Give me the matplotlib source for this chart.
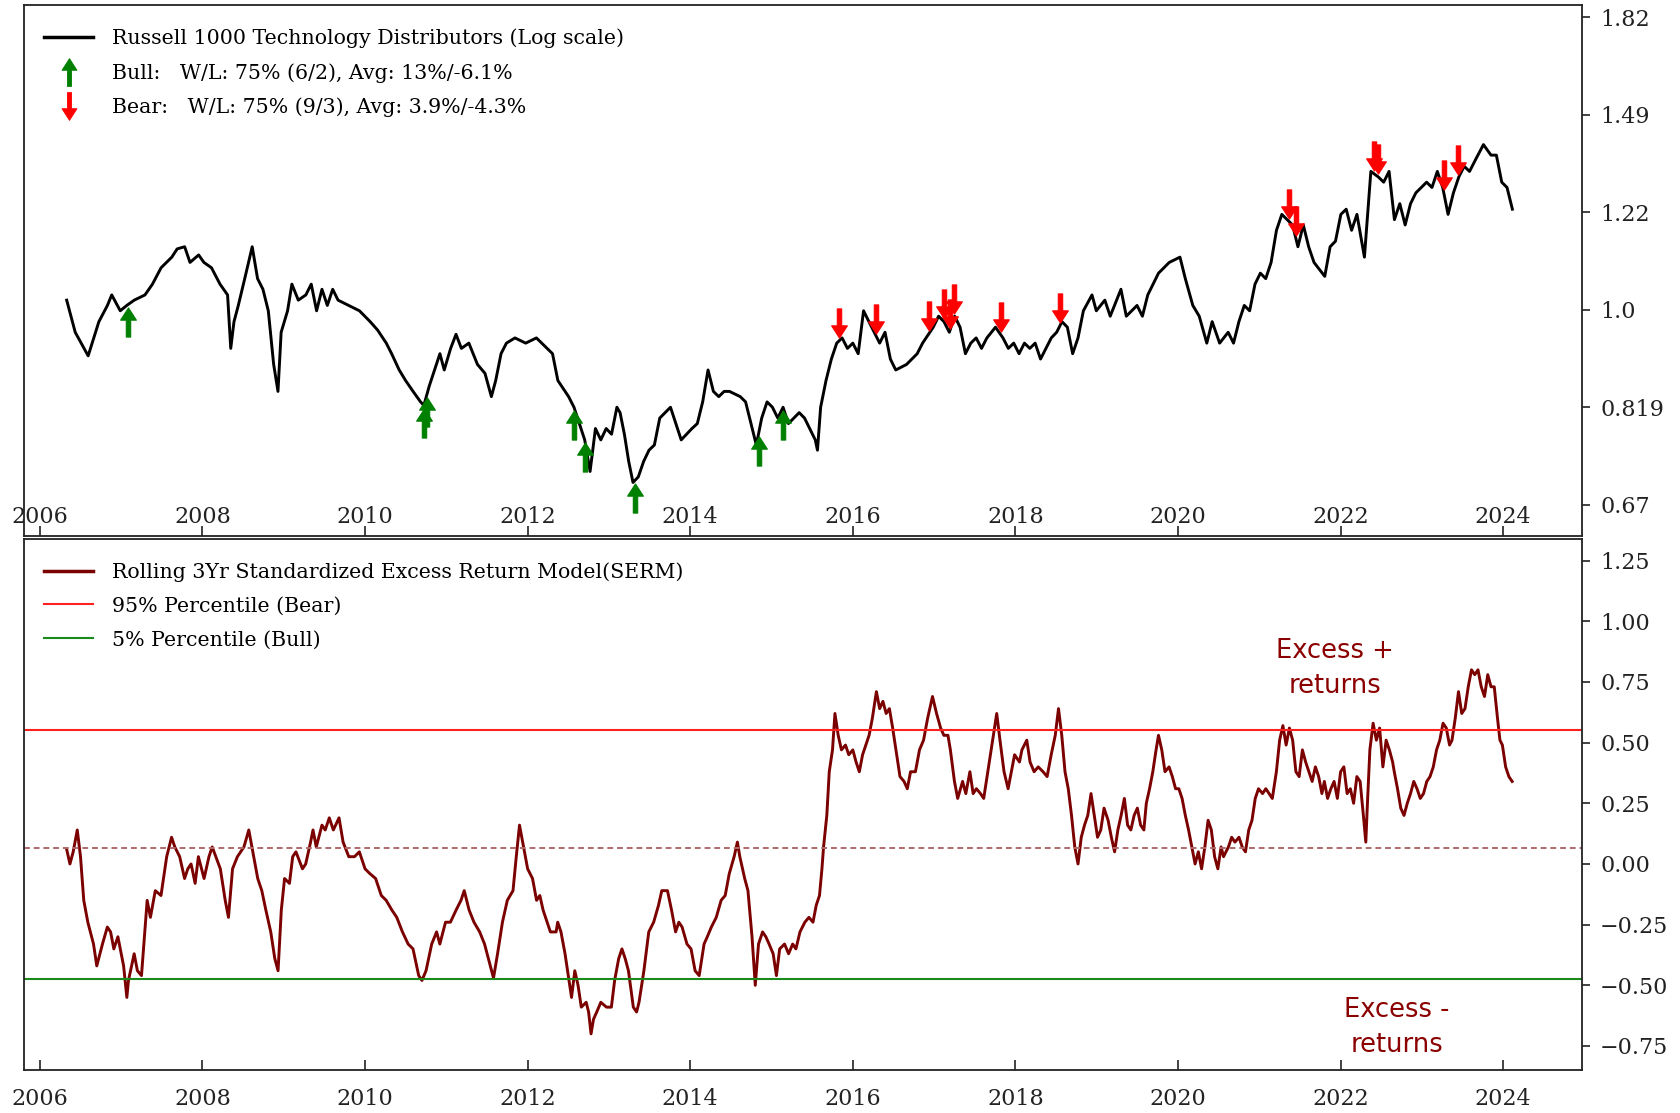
import numpy as np
import matplotlib
matplotlib.use('Agg')
import matplotlib.pyplot as plt
from matplotlib.path import Path
from matplotlib.lines import Line2D
from matplotlib.ticker import NullLocator, FuncFormatter

plt.rcParams['font.family'] = ['DejaVu Serif']

# ---------------- data ----------------
price_years = [
    2006.33, 2006.435, 2006.594, 2006.726, 2006.831, 2006.884, 2006.989, 2007.069, 2007.161, 2007.293,
    2007.385, 2007.491, 2007.623, 2007.689, 2007.781, 2007.847, 2007.953, 2008.018, 2008.111, 2008.216,
    2008.309, 2008.348, 2008.388, 2008.441, 2008.520, 2008.612, 2008.678, 2008.744, 2008.810, 2008.876,
    2008.929, 2008.968, 2009.047, 2009.100, 2009.179, 2009.272, 2009.338, 2009.404, 2009.470, 2009.536,
    2009.602, 2009.668, 2009.799, 2009.931, 2010.063, 2010.156, 2010.261, 2010.327, 2010.420, 2010.499,
    2010.591, 2010.683, 2010.723, 2010.789, 2010.855, 2010.921, 2010.974, 2011.053, 2011.119, 2011.185,
    2011.277, 2011.383, 2011.475, 2011.554, 2011.607, 2011.673, 2011.739, 2011.844, 2011.976, 2012.108,
    2012.240, 2012.306, 2012.372, 2012.504, 2012.570, 2012.636, 2012.702, 2012.768, 2012.834, 2012.900,
    2012.966, 2013.032, 2013.098, 2013.137, 2013.190, 2013.243, 2013.296, 2013.361, 2013.427, 2013.493,
    2013.559, 2013.625, 2013.691, 2013.757, 2013.823, 2013.889, 2013.955, 2014.021, 2014.087, 2014.153,
    2014.219, 2014.285, 2014.351, 2014.417, 2014.483, 2014.615, 2014.681, 2014.747, 2014.813, 2014.879,
    2014.945, 2015.011, 2015.077, 2015.142, 2015.208, 2015.274, 2015.340, 2015.406, 2015.538, 2015.565,
    2015.604, 2015.670, 2015.736, 2015.802, 2015.868, 2015.934, 2016.000, 2016.066, 2016.132, 2016.198,
    2016.264, 2016.330, 2016.396, 2016.462, 2016.528, 2016.660, 2016.792, 2016.858, 2016.989, 2017.055,
    2017.121, 2017.187, 2017.253, 2017.319, 2017.385, 2017.451, 2017.517, 2017.583, 2017.649, 2017.755,
    2017.847, 2017.913, 2017.979, 2018.045, 2018.111, 2018.177, 2018.243, 2018.309, 2018.375, 2018.441,
    2018.507, 2018.573, 2018.639, 2018.704, 2018.770, 2018.836, 2018.942, 2018.995, 2019.100, 2019.166,
    2019.298, 2019.364, 2019.496, 2019.562, 2019.628, 2019.760, 2019.892, 2020.024, 2020.090, 2020.182,
    2020.261, 2020.354, 2020.420, 2020.512, 2020.617, 2020.683, 2020.749, 2020.815, 2020.881, 2020.947,
    2021.013, 2021.079, 2021.145, 2021.211, 2021.277, 2021.343, 2021.409, 2021.475, 2021.541, 2021.607,
    2021.673, 2021.805, 2021.871, 2021.937, 2022.003, 2022.069, 2022.135, 2022.201, 2022.293, 2022.372,
    2022.464, 2022.530, 2022.596, 2022.662, 2022.728, 2022.794, 2022.860, 2022.926, 2023.058, 2023.124,
    2023.190, 2023.256, 2023.322, 2023.388, 2023.454, 2023.520, 2023.586, 2023.652, 2023.757, 2023.850,
    2023.916, 2023.982, 2024.047, 2024.113]

price_values = [
    1.020, 0.955, 0.910, 0.976, 1.009, 1.031, 0.998, 1.009, 1.020, 1.031,
    1.054, 1.090, 1.114, 1.133, 1.138, 1.102, 1.119, 1.102, 1.090, 1.054,
    1.031, 0.924, 0.976, 1.009, 1.066, 1.138, 1.066, 1.043, 0.998, 0.894,
    0.846, 0.955, 0.998, 1.054, 1.020, 1.031, 1.054, 0.998, 1.043, 1.009,
    1.043, 1.020, 1.009, 0.998, 0.976, 0.959, 0.934, 0.914, 0.884, 0.865,
    0.846, 0.828, 0.822, 0.855, 0.884, 0.914, 0.884, 0.924, 0.951, 0.924,
    0.934, 0.894, 0.878, 0.837, 0.865, 0.914, 0.934, 0.944, 0.934, 0.944,
    0.924, 0.914, 0.865, 0.837, 0.819, 0.792, 0.766, 0.718, 0.784, 0.766,
    0.784, 0.775, 0.819, 0.810, 0.775, 0.733, 0.702, 0.710, 0.733, 0.750,
    0.758, 0.801, 0.810, 0.819, 0.792, 0.766, 0.775, 0.784, 0.792, 0.828,
    0.884, 0.846, 0.837, 0.846, 0.846, 0.837, 0.828, 0.792, 0.758, 0.801,
    0.828, 0.819, 0.801, 0.819, 0.792, 0.801, 0.810, 0.801, 0.766, 0.750,
    0.819, 0.865, 0.904, 0.934, 0.944, 0.924, 0.934, 0.914, 0.998, 0.976,
    0.955, 0.934, 0.955, 0.904, 0.884, 0.894, 0.914, 0.934, 0.965, 0.987,
    0.976, 0.955, 0.987, 0.965, 0.914, 0.934, 0.944, 0.924, 0.944, 0.965,
    0.944, 0.924, 0.934, 0.914, 0.934, 0.924, 0.934, 0.904, 0.924, 0.944,
    0.955, 0.976, 0.965, 0.914, 0.944, 0.998, 1.031, 0.998, 1.020, 0.987,
    1.043, 0.987, 1.009, 0.987, 1.031, 1.078, 1.102, 1.114, 1.066, 1.009,
    0.987, 0.934, 0.976, 0.934, 0.955, 0.934, 0.976, 1.009, 0.998, 1.054,
    1.078, 1.066, 1.102, 1.177, 1.216, 1.203, 1.190, 1.138, 1.190, 1.138,
    1.102, 1.071, 1.138, 1.151, 1.216, 1.229, 1.177, 1.216, 1.114, 1.328,
    1.313, 1.299, 1.328, 1.203, 1.243, 1.190, 1.243, 1.271, 1.299, 1.285,
    1.328, 1.285, 1.216, 1.271, 1.313, 1.342, 1.328, 1.357, 1.403, 1.373,
    1.373, 1.299, 1.285, 1.229]

serm_years = [
    2006.33, 2006.37, 2006.41, 2006.46, 2006.50, 2006.54, 2006.59, 2006.66, 2006.70, 2006.77,
    2006.83, 2006.87, 2006.91, 2006.96, 2007.03, 2007.07, 2007.09, 2007.16, 2007.20, 2007.25,
    2007.32, 2007.36, 2007.42, 2007.49, 2007.56, 2007.62, 2007.66, 2007.72, 2007.78, 2007.82,
    2007.86, 2007.91, 2007.95, 2008.02, 2008.08, 2008.12, 2008.22, 2008.28, 2008.32, 2008.37,
    2008.43, 2008.51, 2008.57, 2008.63, 2008.68, 2008.73, 2008.78, 2008.84, 2008.89, 2008.93,
    2008.97, 2009.01, 2009.07, 2009.11, 2009.15, 2009.23, 2009.27, 2009.33, 2009.36, 2009.40,
    2009.47, 2009.51, 2009.56, 2009.61, 2009.68, 2009.73, 2009.80, 2009.87, 2009.93, 2010.00,
    2010.06, 2010.13, 2010.20, 2010.26, 2010.33, 2010.39, 2010.46, 2010.53, 2010.59, 2010.66,
    2010.70, 2010.75, 2010.82, 2010.88, 2010.92, 2010.99, 2011.05, 2011.12, 2011.18, 2011.22,
    2011.28, 2011.34, 2011.41, 2011.47, 2011.54, 2011.58, 2011.63, 2011.69, 2011.75, 2011.82,
    2011.86, 2011.90, 2011.95, 2012.00, 2012.06, 2012.11, 2012.15, 2012.19, 2012.24, 2012.28,
    2012.35, 2012.37, 2012.41, 2012.46, 2012.50, 2012.54, 2012.58, 2012.62, 2012.66, 2012.72,
    2012.75, 2012.78, 2012.81, 2012.85, 2012.90, 2012.97, 2013.03, 2013.07, 2013.12, 2013.16,
    2013.20, 2013.24, 2013.30, 2013.34, 2013.37, 2013.43, 2013.49, 2013.55, 2013.61, 2013.65,
    2013.72, 2013.77, 2013.82, 2013.86, 2013.90, 2013.96, 2014.01, 2014.06, 2014.11, 2014.17,
    2014.21, 2014.26, 2014.32, 2014.38, 2014.43, 2014.48, 2014.54, 2014.58, 2014.61, 2014.67,
    2014.71, 2014.76, 2014.80, 2014.84, 2014.89, 2014.93, 2014.97, 2015.02, 2015.06, 2015.10,
    2015.16, 2015.21, 2015.26, 2015.30, 2015.35, 2015.41, 2015.46, 2015.51, 2015.55, 2015.59,
    2015.62, 2015.64, 2015.68, 2015.71, 2015.75, 2015.78, 2015.82, 2015.86, 2015.91, 2015.95,
    2016.00, 2016.04, 2016.08, 2016.12, 2016.16, 2016.20, 2016.24, 2016.29, 2016.33, 2016.37,
    2016.41, 2016.45, 2016.49, 2016.53, 2016.58, 2016.63, 2016.67, 2016.71, 2016.77, 2016.82,
    2016.87, 2016.92, 2016.98, 2017.03, 2017.08, 2017.12, 2017.17, 2017.20, 2017.25, 2017.29,
    2017.35, 2017.39, 2017.44, 2017.48, 2017.52, 2017.57, 2017.61, 2017.66, 2017.72, 2017.77,
    2017.81, 2017.86, 2017.91, 2017.95, 2017.99, 2018.05, 2018.08, 2018.14, 2018.18, 2018.23,
    2018.28, 2018.34, 2018.39, 2018.44, 2018.49, 2018.53, 2018.57, 2018.61, 2018.65, 2018.69,
    2018.73, 2018.77, 2018.81, 2018.85, 2018.89, 2018.93, 2018.97, 2019.01, 2019.05, 2019.09,
    2019.14, 2019.18, 2019.22, 2019.26, 2019.30, 2019.34, 2019.38, 2019.42, 2019.46, 2019.50,
    2019.54, 2019.58, 2019.61, 2019.65, 2019.69, 2019.73, 2019.76, 2019.80, 2019.84, 2019.89,
    2019.93, 2019.97, 2020.01, 2020.05, 2020.09, 2020.13, 2020.17, 2020.21, 2020.25, 2020.29,
    2020.33, 2020.37, 2020.41, 2020.45, 2020.49, 2020.53, 2020.56, 2020.62, 2020.66, 2020.70,
    2020.75, 2020.79, 2020.83, 2020.87, 2020.91, 2020.95, 2020.99, 2021.04, 2021.08, 2021.12,
    2021.16, 2021.21, 2021.25, 2021.29, 2021.33, 2021.37, 2021.41, 2021.45, 2021.49, 2021.53,
    2021.57, 2021.61, 2021.65, 2021.69, 2021.73, 2021.77, 2021.80, 2021.84, 2021.88, 2021.92,
    2021.96, 2022.00, 2022.04, 2022.08, 2022.12, 2022.16, 2022.20, 2022.24, 2022.28, 2022.31,
    2022.33, 2022.36, 2022.40, 2022.44, 2022.48, 2022.52, 2022.56, 2022.60, 2022.64, 2022.66,
    2022.70, 2022.74, 2022.78, 2022.82, 2022.86, 2022.90, 2022.94, 2022.98, 2023.02, 2023.06,
    2023.10, 2023.14, 2023.18, 2023.22, 2023.26, 2023.30, 2023.34, 2023.37, 2023.41, 2023.45,
    2023.49, 2023.53, 2023.57, 2023.61, 2023.65, 2023.69, 2023.73, 2023.77, 2023.81, 2023.85,
    2023.89, 2023.93, 2023.96, 2023.99, 2024.03, 2024.07, 2024.11]

serm_values = [
    0.06, 0.00, 0.05, 0.14, 0.03, -0.15, -0.24, -0.33, -0.42, -0.33,
    -0.26, -0.28, -0.35, -0.30, -0.42, -0.55, -0.48, -0.37, -0.44, -0.46,
    -0.15, -0.22, -0.11, -0.13, 0.03, 0.11, 0.07, 0.03, -0.06, -0.02,
    0.00, -0.08, 0.03, -0.06, 0.03, 0.07, -0.02, -0.15, -0.22, -0.02,
    0.03, 0.07, 0.14, 0.03, -0.06, -0.11, -0.19, -0.28, -0.39, -0.44,
    -0.19, -0.06, -0.08, 0.03, 0.05, -0.02, 0.00, 0.09, 0.14, 0.07,
    0.16, 0.14, 0.19, 0.14, 0.19, 0.09, 0.03, 0.03, 0.05, -0.02,
    -0.04, -0.06, -0.13, -0.15, -0.19, -0.22, -0.28, -0.33, -0.35, -0.46,
    -0.48, -0.44, -0.33, -0.28, -0.33, -0.24, -0.24, -0.19, -0.15, -0.11,
    -0.19, -0.24, -0.28, -0.33, -0.42, -0.47, -0.37, -0.24, -0.15, -0.11,
    0.03, 0.16, 0.07, -0.02, -0.06, -0.15, -0.13, -0.19, -0.24, -0.28,
    -0.28, -0.24, -0.28, -0.37, -0.46, -0.55, -0.44, -0.50, -0.59, -0.57,
    -0.61, -0.70, -0.64, -0.61, -0.57, -0.59, -0.59, -0.48, -0.39, -0.35,
    -0.39, -0.44, -0.59, -0.61, -0.57, -0.44, -0.28, -0.24, -0.17, -0.11,
    -0.11, -0.19, -0.28, -0.24, -0.26, -0.33, -0.35, -0.44, -0.46, -0.33,
    -0.30, -0.26, -0.22, -0.15, -0.13, -0.04, 0.03, 0.09, 0.03, -0.06,
    -0.11, -0.30, -0.50, -0.33, -0.28, -0.30, -0.33, -0.37, -0.46, -0.35,
    -0.33, -0.37, -0.33, -0.35, -0.28, -0.24, -0.22, -0.24, -0.17, -0.13,
    -0.02, 0.07, 0.20, 0.38, 0.47, 0.62, 0.53, 0.47, 0.49, 0.45,
    0.47, 0.42, 0.38, 0.45, 0.49, 0.53, 0.60, 0.71, 0.64, 0.67,
    0.62, 0.64, 0.56, 0.47, 0.36, 0.34, 0.31, 0.38, 0.38, 0.47,
    0.51, 0.60, 0.69, 0.62, 0.56, 0.53, 0.53, 0.47, 0.34, 0.27,
    0.34, 0.29, 0.38, 0.29, 0.31, 0.29, 0.27, 0.38, 0.51, 0.62,
    0.51, 0.38, 0.31, 0.38, 0.45, 0.42, 0.47, 0.51, 0.42, 0.38,
    0.40, 0.38, 0.36, 0.45, 0.53, 0.64, 0.53, 0.38, 0.31, 0.20,
    0.07, 0.00, 0.11, 0.16, 0.20, 0.29, 0.20, 0.11, 0.14, 0.23,
    0.18, 0.11, 0.05, 0.14, 0.20, 0.27, 0.16, 0.14, 0.20, 0.23,
    0.16, 0.14, 0.25, 0.31, 0.38, 0.47, 0.53, 0.47, 0.38, 0.40,
    0.36, 0.31, 0.31, 0.27, 0.20, 0.14, 0.07, 0.00, 0.05, -0.02,
    0.07, 0.18, 0.14, 0.03, -0.02, 0.07, 0.03, 0.07, 0.11, 0.09,
    0.11, 0.07, 0.05, 0.14, 0.18, 0.27, 0.31, 0.29, 0.31, 0.29,
    0.27, 0.38, 0.51, 0.57, 0.49, 0.56, 0.51, 0.38, 0.36, 0.47,
    0.42, 0.38, 0.34, 0.40, 0.36, 0.29, 0.34, 0.27, 0.31, 0.34,
    0.27, 0.38, 0.40, 0.29, 0.31, 0.25, 0.36, 0.34, 0.20, 0.09,
    0.25, 0.47, 0.58, 0.51, 0.56, 0.40, 0.51, 0.47, 0.42, 0.38,
    0.31, 0.23, 0.20, 0.25, 0.29, 0.34, 0.31, 0.27, 0.29, 0.34,
    0.36, 0.40, 0.47, 0.51, 0.58, 0.56, 0.49, 0.51, 0.60, 0.71,
    0.62, 0.64, 0.73, 0.80, 0.78, 0.80, 0.73, 0.69, 0.78, 0.73,
    0.73, 0.60, 0.51, 0.49, 0.40, 0.36, 0.34]

bull_signal_years = [2007.09, 2010.72, 2010.76, 2012.57, 2012.70, 2013.32, 2014.84, 2015.14]
bear_signal_years = [2015.83, 2016.29, 2016.94, 2017.12, 2017.19, 2017.25, 2017.82, 2018.55,
                     2021.37, 2021.45, 2022.41, 2022.46, 2023.27, 2023.45]

bear_level = 0.553      # 95% percentile
bull_level = -0.474     # 5% percentile
mid_level = 0.066

price_ticks = [0.6703, 0.8187, 1.0, 1.2214, 1.4918, 1.8221]
price_tick_labels = ['0.67', '0.819', '1.0', '1.22', '1.49', '1.82']
serm_ticks = [-0.75, -0.5, -0.25, 0.0, 0.25, 0.5, 0.75, 1.0, 1.25]
year_ticks = list(range(2006, 2025, 2))

legend_top = ['Russell 1000 Technology Distributors (Log scale)',
              'Bull:   W/L: 75% (6/2), Avg: 13%/-6.1%',
              'Bear:   W/L: 75% (9/3), Avg: 3.9%/-4.3%']
legend_bottom = ['Rolling 3Yr Standardized Excess Return Model(SERM)',
                 '95% Percentile (Bear)',
                 '5% Percentile (Bull)']

assert len(price_years) == len(price_values)
assert len(serm_years) == len(serm_values)

# ---------------- figure ----------------
fig = plt.figure(figsize=(16.81, 11.13), dpi=100)
ax1 = fig.add_axes([0.01404, 0.5184, 0.9271, 0.4767])
ax2 = fig.add_axes([0.01404, 0.03863, 0.9271, 0.4771])

# arrow marker paths
up_verts = [(-0.075, -0.5), (0.075, -0.5), (0.075, 0.08), (0.27, 0.08), (0.0, 0.5),
            (-0.27, 0.08), (-0.075, 0.08), (-0.075, -0.5)]
codes = [Path.MOVETO] + [Path.LINETO] * 6 + [Path.CLOSEPOLY]
up_arrow = Path(up_verts, codes)
down_arrow = Path([(x, -y) for x, y in up_verts], codes)

# top panel
ax1.plot(price_years, price_values, color='black', lw=2.1, solid_joinstyle='round')
bull_y = np.interp(bull_signal_years, price_years, price_values) * np.exp(-0.036)
bear_y = np.interp(bear_signal_years, price_years, price_values) * np.exp(0.036)
ax1.plot(bull_signal_years, bull_y, ls='none', marker=up_arrow, ms=21,
         color='green', mec='green', mew=0.8)
ax1.plot(bear_signal_years, bear_y, ls='none', marker=down_arrow, ms=21,
         color='red', mec='red', mew=0.8)

ax1.set_yscale('log')
ax1.set_ylim(0.629, 1.866)
ax1.set_xlim(2005.80, 2024.97)
ax1.yaxis.set_minor_locator(NullLocator())
ax1.set_yticks(price_ticks)
ax1.set_yticklabels(price_tick_labels)

leg_kw = dict(loc='upper left', frameon=False, fontsize=14.8, handlelength=2.4,
              handletextpad=0.9, labelspacing=0.72, borderaxespad=0.6,
              bbox_to_anchor=(0.0, 0.995))

h_top = [Line2D([], [], color='black', lw=2.5),
         Line2D([], [], ls='none', marker=up_arrow, ms=20, color='green', mew=0.6),
         Line2D([], [], ls='none', marker=down_arrow, ms=20, color='red', mew=0.6)]
ax1.legend(h_top, legend_top, **leg_kw)

# bottom panel
ax2.plot(serm_years, serm_values, color='#7b0000', lw=2.1, solid_joinstyle='round')
ax2.axhline(bear_level, color='#ff2020', lw=1.5)
ax2.axhline(bull_level, color='#1a8a1a', lw=1.5)
ax2.axhline(mid_level, color='#b06a6a', lw=1.4, ls=(0, (3, 2)))
ax2.set_xlim(2005.80, 2024.97)
ax2.set_ylim(-0.849, 1.339)
ax2.set_yticks(serm_ticks)
ax2.yaxis.set_major_formatter(FuncFormatter(lambda v, p: f'{v:.2f}'.replace('-', '\u2212')))

h_bot = [Line2D([], [], color='#7b0000', lw=2.5),
         Line2D([], [], color='#ff2020', lw=1.5),
         Line2D([], [], color='#1a8a1a', lw=1.5)]
ax2.legend(h_bot, legend_bottom, **leg_kw)

ax2.text(0.8415, 0.756, 'Excess +\nreturns', transform=ax2.transAxes, ha='center',
         va='center', color='#8b0000', fontsize=18.5, family='DejaVu Sans',
         linespacing=1.45)
ax2.text(0.881, 0.080, 'Excess -\nreturns', transform=ax2.transAxes, ha='center',
         va='center', color='#8b0000', fontsize=18.5, family='DejaVu Sans',
         linespacing=1.45)

for ax, pad in ((ax1, -21.5), (ax2, 13)):
    ax.set_xticks(year_ticks)
    ax.set_xticklabels([str(y) for y in year_ticks])
    ax.xaxis.set_minor_locator(NullLocator())
    ax.tick_params(axis='x', direction='in', length=7, width=1.2, pad=pad,
                   labelsize=16, colors='#222222')
    ax.yaxis.tick_right()
    ax.tick_params(axis='y', direction='out', length=6, width=1.2, pad=7,
                   labelsize=16, colors='#222222', left=False)
    for sp in ax.spines.values():
        sp.set_linewidth(1.3)
        sp.set_color('#222222')

fig.savefig('out.png', dpi=100)
